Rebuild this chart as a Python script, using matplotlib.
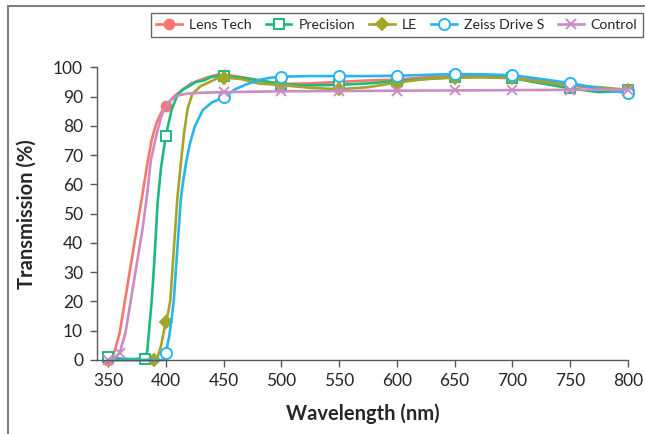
import matplotlib.pyplot as plt
from matplotlib.patches import Rectangle

plt.rcParams['font.family'] = ['Lato', 'DejaVu Sans']

# hand-read spectra (wavelength nm, transmission %)
lens_wl = [350, 353, 356, 360, 365, 370, 375, 380, 384, 388, 392, 396, 400, 407, 415, 422, 430, 438, 445, 450,
           460, 475, 500, 525, 550, 575, 600, 625, 650, 675, 700, 725, 750, 775, 800]
lens_t = [0, 0.3, 3.4, 9, 21, 33, 45, 57, 67, 75.5, 81, 84.5, 86.8, 90, 92.5, 94.5, 95.7, 96.8, 97.5, 97.5,
          97, 96, 94.3, 94.5, 95, 95.5, 95.8, 96.6, 97, 97.2, 96.8, 95.5, 93.8, 92.8, 92.2]
lens_mk = [350, 400, 450, 500, 550, 600, 650, 700, 750, 800]

prec_wl = [350, 360, 370, 382, 384, 386, 388, 390, 393, 396, 400, 405, 410, 415, 420, 426, 433, 440, 450,
           465, 480, 500, 520, 550, 575, 600, 625, 650, 675, 700, 725, 750, 775, 790, 800]
prec_t = [1, 0.5, 0.3, 0.5, 3, 12, 21, 33, 54, 66, 76.5, 85.4, 90.5, 92.5, 93.5, 95, 95.5, 96.8, 97,
          96.5, 95.5, 94.3, 93.8, 94, 94.5, 95.3, 96, 96.6, 96.7, 96.3, 94.5, 92.8, 91.5, 91.8, 92.3]
prec_mk = [350, 382, 400, 450, 500, 550, 600, 650, 700, 750, 800]

le_wl = [350, 380, 390, 393, 396, 400, 402, 404, 407, 410, 413, 416, 419, 423, 430, 438, 445, 450,
         465, 480, 500, 525, 550, 575, 600, 625, 650, 675, 700, 725, 750, 775, 800]
le_t = [0, 0, 0, 1, 5, 13.1, 16, 20.5, 38, 55, 67, 78, 86, 91, 93.5, 95, 96.3, 96.5,
        96, 94.5, 93.9, 93, 92.5, 93.2, 94.8, 96, 96.5, 96.6, 96.3, 95, 93.8, 93.2, 92.3]
le_mk = [390, 400, 450, 500, 550, 600, 650, 700, 750, 800]

zeiss_wl = [350, 398, 400, 403, 405, 407, 410, 413, 415, 418, 421, 425, 432, 440, 450, 460, 470, 481, 490,
            500, 525, 550, 575, 600, 625, 650, 675, 700, 725, 750, 775, 800]
zeiss_t = [0, 0, 2.3, 8, 14, 20.5, 38, 54.7, 61, 68.3, 74, 79.7, 85.4, 88, 89.8, 92.5, 94.2, 95.7, 96.4,
           96.8, 97, 97, 97, 97.1, 97.4, 97.7, 97.6, 97.3, 96, 94.6, 92.8, 91.1]
zeiss_mk = [400, 450, 500, 550, 600, 650, 700, 750, 800]

ctrl_wl = [350, 355, 360, 365, 370, 375, 380, 384, 387, 392, 396, 400, 405, 410, 418, 430, 450,
           500, 550, 600, 650, 700, 750, 800]
ctrl_t = [0, 0.5, 2.4, 9, 21, 33, 45, 57, 68, 77, 83, 86.8, 89, 90.3, 91, 91.3, 91.5,
          91.8, 91.9, 92, 92.1, 92.2, 92.3, 92.4]
ctrl_mk = [350, 360, 450, 500, 550, 600, 650, 700, 750, 800]

series = [
    ('Lens Tech', lens_wl, lens_t, lens_mk, '#F8766D', 'o', '#F8766D', 7),
    ('Precision', prec_wl, prec_t, prec_mk, '#1DB97D', 's', 'white', 7.5),
    ('LE', le_wl, le_t, le_mk, '#A3A52A', 'D', '#A3A52A', 6.5),
    ('Zeiss Drive S', zeiss_wl, zeiss_t, zeiss_mk, '#2AB4EC', 'o', 'white', 8),
    ('Control', ctrl_wl, ctrl_t, ctrl_mk, '#CB8BC4', 'x', '#CB8BC4', 7),
]

fig = plt.figure(figsize=(6.45, 4.34), dpi=100)
ax = fig.add_axes([97 / 645, 1 - 360 / 434, (628 - 97) / 645, (360 - 67.3) / 434])

for name, wl, t, mk, col, m, face, ms in series:
    idx = [wl.index(w) for w in mk]
    ax.plot(wl, t, color=col, lw=1.9, marker=m, markevery=idx, markersize=ms,
            markerfacecolor=face, markeredgecolor=col, markeredgewidth=1.4,
            label=name, clip_on=False)

ax.set_xlim(340.5, 800)
ax.set_ylim(0, 100)
ax.set_xticks(range(350, 801, 50))
ax.set_yticks(range(0, 101, 10))

for s in ['top', 'right']:
    ax.spines[s].set_visible(False)
for s in ['left', 'bottom']:
    ax.spines[s].set_color('#595959')
    ax.spines[s].set_linewidth(1.0)
ax.tick_params(axis='both', colors='#595959', labelcolor='#262626', labelsize=12.5, length=5, width=1.0)
ax.tick_params(axis='y', pad=5)
ax.tick_params(axis='x', pad=4)

ax.set_xlabel('Wavelength (nm)', fontsize=14.5, fontweight='bold', color='#262626', labelpad=11)
ax.set_ylabel('Transmission (%)', fontsize=14.5, fontweight='bold', color='#262626', labelpad=12)

leg = ax.legend(loc='center', bbox_to_anchor=(397 / 645, 1 - 25 / 434), bbox_transform=fig.transFigure,
                ncol=5, fontsize=10.2, frameon=True, fancybox=False, handlelength=1.8,
                columnspacing=1.0, handletextpad=0.5, borderpad=0.4, edgecolor='#404040')
leg.get_frame().set_linewidth(1.0)
for txt in leg.get_texts():
    txt.set_color('#262626')

fig.patches.append(Rectangle((7.5 / 645, -0.1), 1.0, 1 - 6 / 434 + 0.1, transform=fig.transFigure,
                             fill=False, edgecolor='#7f7f7f', lw=1.5))

fig.savefig('out.png', dpi=100)
